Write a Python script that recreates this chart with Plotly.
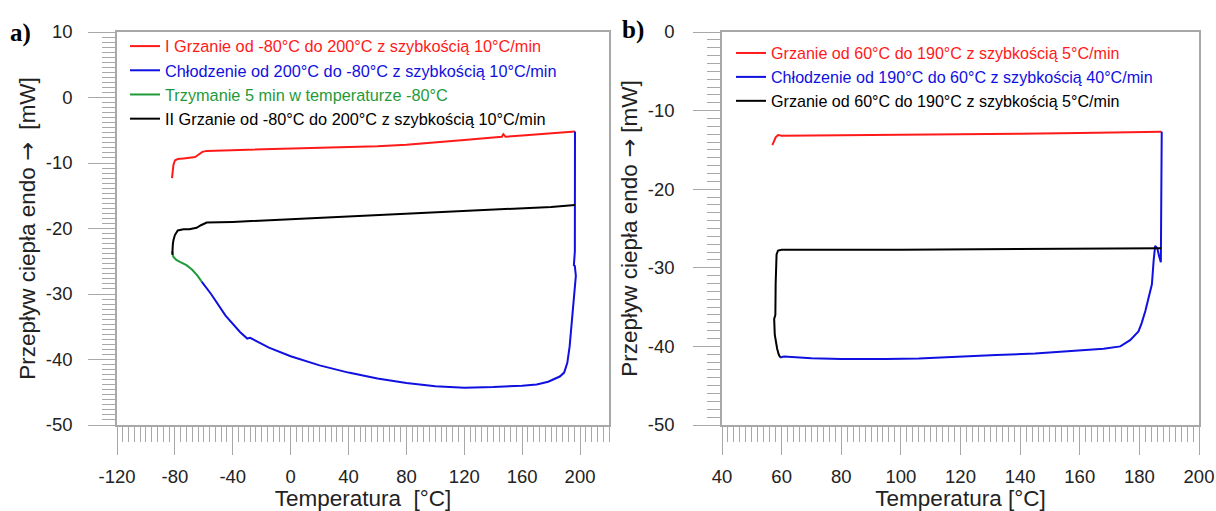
import plotly.graph_objects as go

# ---------------- Panel a data ----------------
a_heat1_x = [-82, -81.6, -81, -80, -78, -74, -70, -66, -63.5, -61, -58, -50, -40, -20, 0, 20, 40, 60, 80, 100, 120, 140, 146, 147, 148.5, 160, 180, 196.5]
a_heat1_y = [-12.3, -11.6, -10.3, -9.6, -9.4, -9.3, -9.25, -9.1, -8.7, -8.3, -8.15, -8.1, -8.0, -7.9, -7.8, -7.7, -7.6, -7.45, -7.2, -6.9, -6.5, -6.1, -6.0, -5.6, -6.0, -5.8, -5.5, -5.2]

a_cool_x = [196.5, 196.7, 196.8, 196.4, 195.7, 196.3, 197.1, 196.6, 195.8, 195.0, 194.0, 192.8, 191.2, 189.0, 186.0, 182.5, 178, 170, 160, 140, 120, 100, 80, 60, 46, 40, 20, 0, -15, -25, -28, -30, -35, -45, -55, -61.5]
a_cool_y = [-5.2, -15.0, -21.0, -23.5, -25.7, -25.6, -27.2, -28.5, -30.5, -32.5, -35.0, -38.0, -40.5, -42.0, -42.6, -43.0, -43.4, -43.8, -44.0, -44.2, -44.3, -44.1, -43.6, -42.9, -42.3, -42.0, -40.9, -39.5, -38.2, -37.0, -36.7, -36.8, -35.8, -33.3, -30.0, -28.1]

a_hold_x = [-61.5, -64, -68, -72, -76.5, -79, -81.1, -81.8]
a_hold_y = [-28.1, -27.3, -26.3, -25.6, -25.1, -24.8, -24.3, -23.5]

a_heat2_x = [-81.8, -81.7, -81.4, -81.0, -80.0, -78.0, -74, -70, -65, -62, -58, -40, -20, 0, 20, 40, 60, 80, 100, 120, 140, 160, 180, 196.5]
a_heat2_y = [-24.0, -23.0, -22.4, -21.8, -21.0, -20.3, -20.1, -20.1, -19.9, -19.5, -19.1, -19.0, -18.8, -18.6, -18.4, -18.2, -18.0, -17.8, -17.6, -17.4, -17.2, -17.0, -16.7, -16.4]

a_names = ["I Grzanie od -80°C do 200°C z szybkością 10°C/min",
           "Chłodzenie od 200°C do -80°C z szybkością 10°C/min",
           "Trzymanie 5 min w temperaturze -80°C",
           "II Grzanie od -80°C do 200°C z szybkością 10°C/min"]

# ---------------- Panel b data ----------------
b_heat1_x = [56.9, 57.3, 58.0, 58.8, 60, 80, 100, 120, 140, 160, 187.5]
b_heat1_y = [-14.4, -14.0, -13.4, -13.1, -13.2, -13.15, -13.1, -13.0, -12.95, -12.85, -12.7]

b_cool_x = [187.5, 187.4, 187.3, 187.2, 186.6, 186.0, 185.3, 184.8, 184.2, 183.2, 182.0, 180.8, 179.7, 176.9, 173.6, 168, 158, 145, 132, 120, 106, 95, 80, 70, 60.8, 59.5]
b_cool_y = [-12.7, -20.0, -27.5, -29.3, -28.5, -27.5, -27.2, -29.0, -32.1, -33.8, -35.5, -37.0, -38.1, -39.2, -40.0, -40.3, -40.6, -40.9, -41.1, -41.3, -41.55, -41.6, -41.6, -41.5, -41.3, -41.4]

b_heat2_x = [59.5, 59.0, 58.5, 58.2, 57.7, 57.5, 57.9, 58.0, 58.1, 58.3, 58.8, 60, 100, 140, 186.5, 187.3]
b_heat2_y = [-41.4, -41.0, -40.3, -39.5, -38.5, -36.5, -36.0, -32.0, -30.0, -28.3, -27.8, -27.7, -27.7, -27.6, -27.5, -27.5]

b_names = ["Grzanie od 60°C do 190°C z szybkością 5°C/min",
           "Chłodzenie od 190°C do 60°C z szybkością 40°C/min",
           "Grzanie od 60°C do 190°C z szybkością 5°C/min"]

a_xticks = [-120, -80, -40, 0, 40, 80, 120, 160, 200]
a_yticks = [10, 0, -10, -20, -30, -40, -50]
b_xticks = [40, 60, 80, 100, 120, 140, 160, 180, 200]
b_yticks = [0, -10, -20, -30, -40, -50]

RED, BLUE, GREEN, BLACK = "#ff1a1a", "#1010e0", "#1f9a3a", "#000000"
FONT = "Arial, Liberation Sans, sans-serif"
W, H = 1216, 511

ARROW = "<span style='font-family:DejaVu Sans'>→</span>"
a_ytitle = f"Przepływ ciepła endo {ARROW}  [mW]"
b_ytitle = f"Przepływ ciepła endo {ARROW} [mW]"


def colored(name, color):
    return f"<span style='color:{color}'>{name}</span>"


fig = go.Figure()
lw = 2
a_series = [(a_heat1_x, a_heat1_y, RED), (a_cool_x, a_cool_y, BLUE), (a_hold_x, a_hold_y, GREEN), (a_heat2_x, a_heat2_y, BLACK)]
for (xs, ys, c), nm in zip(a_series, a_names):
    fig.add_trace(go.Scatter(x=xs, y=ys, mode="lines", line=dict(color=c, width=lw), name=colored(nm, c),
                             xaxis="x", yaxis="y", legend="legend"))
b_series = [(b_heat1_x, b_heat1_y, RED), (b_cool_x, b_cool_y, BLUE), (b_heat2_x, b_heat2_y, BLACK)]
for (xs, ys, c), nm in zip(b_series, b_names):
    fig.add_trace(go.Scatter(x=xs, y=ys, mode="lines", line=dict(color=c, width=lw), name=colored(nm, c),
                             xaxis="x2", yaxis="y2", legend="legend2"))

AX = "#a8a8a8"
ydom = [1 - 425 / H, 1 - 32 / H]
TICKSZ = 18.5
TITLESZ = 22.5


def xax(dom, rng, ticks, minor_dt, title, anchor):
    return dict(domain=dom, range=rng, anchor=anchor, automargin=False, tickmode="array", tickvals=ticks,
                ticktext=[str(t) for t in ticks], ticks="outside", ticklen=28, tickcolor=AX, tickwidth=1.2,
                showline=True, linecolor=AX, linewidth=1.5, mirror=True, showgrid=False, zeroline=False,
                minor=dict(dtick=minor_dt, tick0=rng[0], ticks="outside", ticklen=15, tickcolor=AX, tickwidth=1, showgrid=False),
                tickfont=dict(family=FONT, size=TICKSZ, color="#222"), ticklabelstandoff=6,
                title=dict(text=title, font=dict(family=FONT, size=TITLESZ, color="#222"), standoff=2))


def yax(rng, ticks, minor_dt, title, anchor, lstand):
    return dict(domain=ydom, range=rng, anchor=anchor, automargin=False, tickmode="array", tickvals=ticks,
                ticktext=[str(t) for t in ticks], ticks="outside", ticklen=27, tickcolor=AX, tickwidth=1.2,
                showline=True, linecolor=AX, linewidth=1.5, mirror=True, showgrid=False, zeroline=False,
                minor=dict(dtick=minor_dt, tick0=rng[0], ticks="outside", ticklen=13, tickcolor=AX, tickwidth=1, showgrid=False),
                tickfont=dict(family=FONT, size=TICKSZ, color="#222"), ticklabelstandoff=lstand,
                title=dict(text=title, font=dict(family=FONT, size=TITLESZ, color="#222"), standoff=4))


fig.update_layout(
    width=W, height=H, margin=dict(l=0, r=0, t=0, b=0, autoexpand=False),
    paper_bgcolor="white", plot_bgcolor="white",
    xaxis=xax([117 / W, 609 / W], [-120, 220], a_xticks, 4, "Temperatura  [°C]", "y"),
    yaxis=yax([-50, 10], a_yticks, 10 / 13, a_ytitle, "x", 12),
    xaxis2=xax([722 / W, 1199 / W], [40, 200], b_xticks, 2, "Temperatura [°C]", "y2"),
    yaxis2=yax([-50, 0], b_yticks, 1, b_ytitle, "x2", 15),
    legend=dict(x=125 / W, y=1 - 29 / H, xanchor="left", yanchor="top", bgcolor="rgba(0,0,0,0)",
                font=dict(family=FONT, size=16.3), itemwidth=30, tracegroupgap=0),
    legend2=dict(x=731 / W, y=1 - 36 / H, xanchor="left", yanchor="top", bgcolor="rgba(0,0,0,0)",
                 font=dict(family=FONT, size=16.1), itemwidth=30, tracegroupgap=0),
    showlegend=True,
    annotations=[
        dict(text="<b>a)</b>", x=8 / W, y=1 - 33 / H, xref="paper", yref="paper", xanchor="left", yanchor="middle",
             showarrow=False, font=dict(family="Liberation Serif, Times New Roman, serif", size=25, color="black")),
        dict(text="<b>b)</b>", x=620 / W, y=1 - 30 / H, xref="paper", yref="paper", xanchor="left", yanchor="middle",
             showarrow=False, font=dict(family="Liberation Serif, Times New Roman, serif", size=25, color="black")),
    ],
)

fig.write_html("out.html", config={"responsive": False, "displayModeBar": False},
               post_script="document.body.style.margin='0';document.body.style.overflow='hidden';")
